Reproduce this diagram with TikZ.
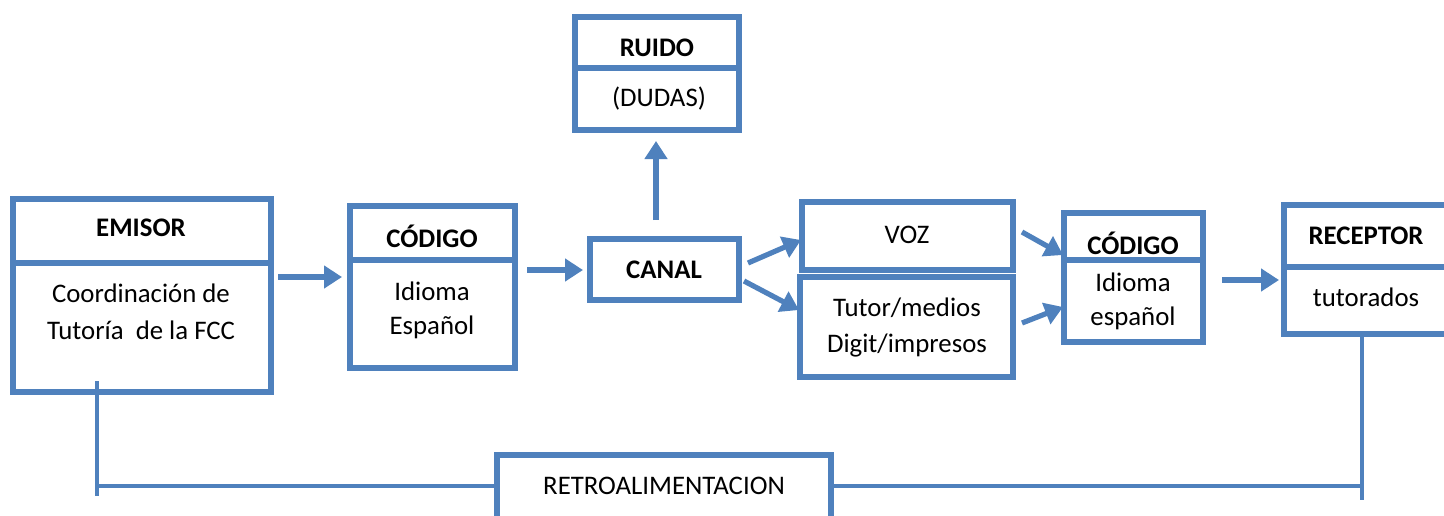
\documentclass[tikz,border=0pt]{standalone}
\usepackage{fontspec}
\setmainfont{Carlito}
\usetikzlibrary{arrows.meta}
\definecolor{bl}{HTML}{4F81BD}
\begin{document}
\begin{tikzpicture}[x=0.5pt,y=-0.5pt,
  box/.style={draw=bl, line width=3pt, inner sep=0pt},
  divl/.style={draw=bl, line width=3pt},
  fb/.style={draw=bl, line width=2.2pt},
  arr/.style={draw=bl, line width=2.6pt, -{Triangle[length=9pt,width=11pt]}},
  txt/.style={font=\fontsize{13.4}{16}\selectfont, inner sep=0pt},
  ttl/.style={font=\fontsize{13.4}{16}\selectfont\bfseries, inner sep=0pt}]
\useasboundingbox (0,0) rectangle (1444,515);
\clip (0,0) rectangle (1444,515);
% boxes
\node[box, minimum width=129pt, minimum height=96.5pt] (emisor) at (142,295.5) {};
\node[box, minimum width=82.5pt, minimum height=81pt] (cod1) at (432.5,287) {};
\node[box, minimum width=74.5pt, minimum height=30.5pt] (canal) at (664.5,269.5) {};
\node[box, minimum width=82pt, minimum height=56.5pt] (ruido) at (657,73.5) {};
\node[box, minimum width=105.5pt, minimum height=34pt] (voz) at (907.5,236) {};
\node[box, minimum width=106.5pt, minimum height=50pt] (tutor) at (906.5,327) {};
\node[box, minimum width=69.5pt, minimum height=64.5pt] (cod2) at (1133.5,277.5) {};
\node[box, minimum width=90pt, minimum height=64.5pt] (recep) at (1374,269.5) {};
\node[box, minimum width=167pt, minimum height=42pt] (retro) at (664,497) {};
% dividers
\draw[divl] (emisor.west |- 0,263) -- (emisor.east |- 0,263);
\draw[divl] (cod1.west |- 0,260) -- (cod1.east |- 0,260);
\draw[divl] (ruido.west |- 0,68) -- (ruido.east |- 0,68);
\draw[divl] (cod2.west |- 0,260) -- (cod2.east |- 0,260);
\draw[divl] (recep.west |- 0,267) -- (recep.east |- 0,267);
% texts
\node[ttl] (t1) at (141,228) {EMISOR};
\node[txt] (t2) at (141,293) {Coordinación de};
\node[txt] (t3) at (141,330) {Tutoría \ de la FCC};
\node[ttl] (t4) at (432,236) {CÓDIGO};
\node[txt] (t5) at (432,291) {Idioma};
\node[txt] (t6) at (432,327) {Español};
\node[ttl] (t7) at (664,270) {CANAL};
\node[ttl] (t8) at (657,48) {RUIDO};
\node[txt] (t9) at (659,99) {(DUDAS)};
\node[txt] (t10) at (907,235) {VOZ};
\node[txt] (t11) at (907,308) {Tutor/medios};
\node[txt] (t12) at (907,345) {Digit/impresos};
\node[ttl] (t13) at (1133,243) {CÓDIGO};
\node[txt] (t14) at (1133,282) {Idioma};
\node[txt] (t15) at (1133,318) {español};
\node[ttl] (t16) at (1366,236) {RECEPTOR};
\node[txt] (t17) at (1366,297) {tutorados};
\node[txt] (t18) at (664,486) {RETROALIMENTACION};
% arrows
\coordinate (a1s) at (278,277); \coordinate (a1e) at (342,277);
\draw[arr] (a1s) -- (a1e);
\coordinate (a2s) at (527,270); \coordinate (a2e) at (583,270);
\draw[arr] (a2s) -- (a2e);
\coordinate (a3s) at (656,220); \coordinate (a3e) at (656,141);
\draw[arr] (a3s) -- (a3e);
\coordinate (a4s) at (748,263); \coordinate (a4e) at (801,240);
\draw[arr] (a4s) -- (a4e);
\coordinate (a5s) at (744,281); \coordinate (a5e) at (799,310);
\draw[arr] (a5s) -- (a5e);
\coordinate (a6s) at (1022,232); \coordinate (a6e) at (1063,255);
\draw[arr] (a6s) -- (a6e);
\coordinate (a7s) at (1022,323); \coordinate (a7e) at (1063,307);
\draw[arr] (a7s) -- (a7e);
\coordinate (a8s) at (1222,280); \coordinate (a8e) at (1279,280);
\draw[arr] (a8s) -- (a8e);
% feedback
\coordinate (fl1) at (97,381); \coordinate (fl2) at (97,496); \coordinate (flm) at (97,486);
\draw[fb] (fl1) -- (fl2);
\draw[fb] (flm) -- (retro.west |- flm);
\coordinate (fr1) at (1362,335); \coordinate (fr2) at (1362,500); \coordinate (frm) at (1362,486);
\draw[fb] (fr1) -- (fr2);
\draw[fb] (retro.east |- frm) -- (frm);
\end{tikzpicture}
\end{document}
